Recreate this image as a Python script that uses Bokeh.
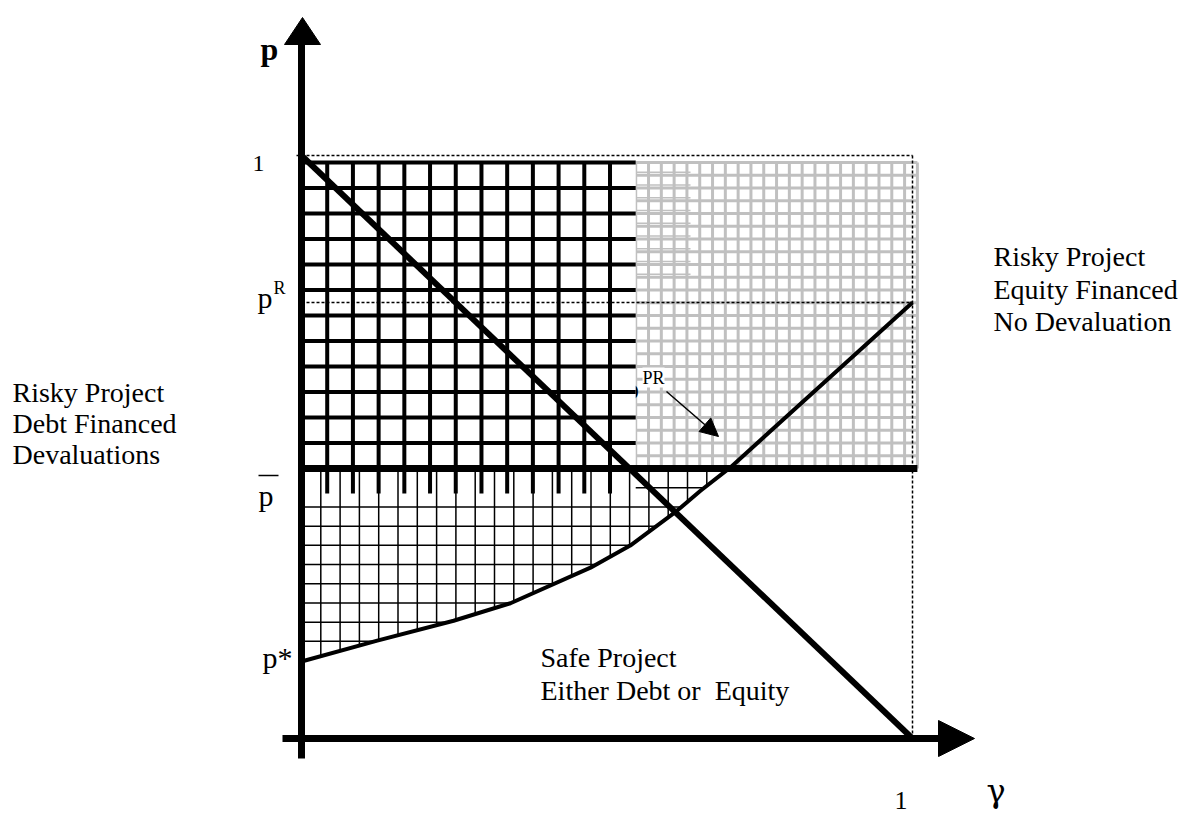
import numpy as np
from bokeh.plotting import figure
from bokeh.models import Range1d, Arrow, NormalHead
from bokeh.core.properties import value
from bokeh.embed import file_html
from bokeh.resources import INLINE

# ---------------- data (model values) ----------------
gamma_curve = [0.0, 0.124, 0.249, 0.342, 0.473, 0.538, 0.615, 0.653, 0.702, 1.0]
p_curve = [0.132, 0.168, 0.202, 0.232, 0.293, 0.331, 0.391, 0.425, 0.465, 0.748]
gamma_diag = [0.0, 1.0]
p_diag = [1.0, 0.0]
p_bar = 0.463
p_R = 0.748
p_star = 0.132
gamma_split = 0.547
p_grid_top = 0.988
gamma_grid_right = 1.008

left_label = ["Risky Project", "Debt Financed", "Devaluations"]
right_label = ["Risky Project", "Equity Financed", "No Devaluation"]
safe_label = ["Safe Project", "Either Debt or\u00a0 Equity"]

# ---------------- layout ----------------
W, H = 1197, 815
OFF = 0
X0, SX = 301.0, 611.0
Y0, SY = 738.0, 583.0
FONT = value("Liberation Serif")


def gx(px):
    return (px - X0) / SX


def gy(py):
    return (Y0 - py) / SY


p = figure(width=W, height=H, output_backend="svg", toolbar_location=None,
           x_range=Range1d(gx(OFF), gx(OFF + W)), y_range=Range1d(gy(OFF + H), gy(OFF)),
           x_axis_location=None, y_axis_location=None, min_border=0,
           outline_line_color=None, background_fill_color="white")
p.grid.visible = False

# gray grid (equity region)
gv = np.linspace(gamma_split, gamma_grid_right, 23)
gh = np.linspace(p_grid_top, p_bar, 25)
p.segment(x0=gv, y0=[p_grid_top] * len(gv), x1=gv, y1=[p_bar] * len(gv),
          line_color="#c0c0c0", line_width=3)
p.segment(x0=[gamma_split] * len(gh), y0=gh, x1=[gamma_grid_right] * len(gh), y1=gh,
          line_color="#c0c0c0", line_width=3)
# slight doubled lines at the top left of the gray grid
gh2 = gh[1:10] + 3.0 / SY
p.segment(x0=[gamma_split] * len(gh2), y0=gh2, x1=[gx(690)] * len(gh2), y1=gh2,
          line_color="#c0c0c0", line_width=1.5)

# partially hidden "p" of p^PR
p.text(x=[gx(624)], y=[gy(388)], text=["p"], text_font=FONT, text_font_size="29px",
       text_baseline="alphabetic", text_align="left", text_color="black")

# white area for the black grid
p.quad(left=[0], right=[gamma_split], top=[p_grid_top + 2 / SY], bottom=[p_bar],
       fill_color="white", line_color=None)

p.text(x=[gx(642)], y=[gy(377)], text=["PR"], text_font=FONT, text_font_size="18px",
       text_baseline="alphabetic", text_align="left", text_color="black",
       background_fill_color="white")

# thick black grid (debt region)
bv = np.linspace(0, gamma_split, 14)[1:-1]
bh = np.linspace(p_grid_top, p_bar, 13)[:-1]
p.segment(x0=bv, y0=[p_grid_top] * len(bv), x1=bv, y1=[gy(493)] * len(bv),
          line_color="black", line_width=4)
p.segment(x0=[0] * len(bh), y0=bh, x1=[gamma_split] * len(bh), y1=bh,
          line_color="black", line_width=4)

# thin grid between p* curve and p_bar
g_end = float(np.interp(p_bar, p_curve, gamma_curve))
dx = 19.3 / SX
tv = np.arange(1, 40) * dx
tv = tv[tv < g_end]
tv_bottom = np.interp(tv, gamma_curve, p_curve)
p.segment(x0=tv, y0=[p_bar] * len(tv), x1=tv, y1=tv_bottom, line_color="black", line_width=1.5)
dy = 19.2 / SY
th = p_bar - np.arange(1, 10) * dy
th_end = np.interp(th, p_curve, gamma_curve)
th_start = np.where(np.arange(1, 10) == 1, gamma_split, 0.0)
p.segment(x0=th_start, y0=th, x1=th_end, y1=th, line_color="black", line_width=1.5)

# dotted guide lines
p.line(x=[gx(296), 1.0], y=[1.0, 1.0], line_color="black", line_width=1.5, line_dash="3 2")
p.line(x=[1.0, 1.0], y=[0.0, 1.0], line_color="black", line_width=1.5, line_dash="3 2")
p.line(x=[0.0, 1.0], y=[p_R, p_R], line_color="black", line_width=1.5, line_dash="3 2")

# p_bar thick line
p.line(x=[0.0, gamma_grid_right], y=[p_bar, p_bar], line_color="black", line_width=7)

# curve and diagonal
p.line(x=gamma_curve, y=p_curve, line_color="black", line_width=4, line_join="round")
p.line(x=gamma_diag, y=p_diag, line_color="black", line_width=6)

# axes
p.line(x=[0, 0], y=[gy(758), gy(42)], line_color="black", line_width=7)
p.line(x=[gx(282), gx(941)], y=[0, 0], line_color="black", line_width=7)
p.patch(x=[gx(284), gx(302), gx(320)], y=[gy(44), gy(17), gy(44)], fill_color="black", line_color="black")
p.patch(x=[gx(938), gx(974), gx(938)], y=[gy(720), gy(738), gy(756)], fill_color="black", line_color="black")

# arrow pointing at the p^PR boundary
p.add_layout(Arrow(end=NormalHead(size=18, fill_color="black", line_color="black"),
                   x_start=gx(666), y_start=gy(391), x_end=gx(718), y_end=gy(436),
                   line_color="black", line_width=1.5))


def txt(px, py, s, size, align="left", style="normal", font=FONT):
    p.text(x=[gx(px)], y=[gy(py)], text=[s], text_font=font, text_font_size=size,
           text_baseline="alphabetic", text_align=align, text_color="black",
           text_font_style=style)


# axis and tick labels
txt(260, 48, "p", "32px", style="bold")
txt(264, 163, "1", "24px", align="right")
txt(257, 297, "p", "30px")
txt(273, 287, "R", "18px")
txt(258, 495, "p", "30px")
p.line(x=[gx(258), gx(278)], y=[gy(475), gy(475)], line_color="black", line_width=1.5)
txt(262, 657, "p*", "30px")
txt(894, 800, "1", "26px")
txt(986, 790, "\u03b3", "32px", font=value("DejaVu Serif"))

# region labels
for i, s in enumerate(left_label):
    txt(12, 392 + 31 * i, s, "28px")
for i, s in enumerate(right_label):
    txt(993, 256 + 32.5 * i, s, "28px")
for i, s in enumerate(safe_label):
    txt(540, 657 + 33 * i, s, "28px")

open("out.html", "w").write(file_html(p, INLINE))
